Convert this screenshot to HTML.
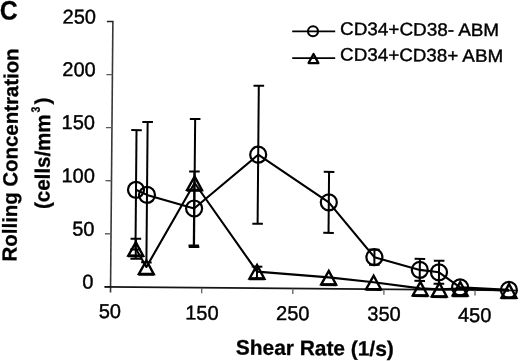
<!DOCTYPE html>
<html><head><meta charset="utf-8"><style>
html,body{margin:0;padding:0;background:#fff;}
body{width:520px;height:361px;overflow:hidden;position:relative;}
svg{position:absolute;left:0;top:0;filter:grayscale(1);}
text{font-family:"Liberation Sans",sans-serif;fill:#000;stroke:#000;stroke-width:0.4px;}
text[font-weight="bold"]{stroke-width:0.3px;}
</style></head><body>
<svg width="520" height="361" viewBox="0 0 520 361">
<rect width="520" height="361" fill="#fff"/>
<g transform="rotate(0.5 260 180)">
<g stroke="#151515" stroke-width="1.35" fill="none">
<line x1="111.5" y1="22.8" x2="111.5" y2="293.7" stroke="#383838" stroke-width="1.6"/>
<line x1="105.5" y1="235.12" x2="111.5" y2="235.12" stroke="#5a5a5a" stroke-width="1.3"/>
<line x1="105.5" y1="182.04" x2="111.5" y2="182.04" stroke="#5a5a5a" stroke-width="1.3"/>
<line x1="105.5" y1="128.96" x2="111.5" y2="128.96" stroke="#5a5a5a" stroke-width="1.3"/>
<line x1="105.5" y1="75.88" x2="111.5" y2="75.88" stroke="#5a5a5a" stroke-width="1.3"/>
<line x1="105.5" y1="22.8" x2="112.1" y2="22.8" stroke="#222" stroke-width="1.4"/>
<line x1="105.5" y1="288.2" x2="111.5" y2="288.2"/>
<line x1="105.5" y1="288.2" x2="517" y2="288.2" stroke-width="1.6"/>
</g>
<g stroke="#555" stroke-width="1.2" fill="none">
<line x1="202.7" y1="288.2" x2="202.7" y2="293.7"/>
<line x1="293.8" y1="288.2" x2="293.8" y2="293.7"/>
<line x1="384.9" y1="288.2" x2="384.9" y2="293.7"/>
<line x1="476" y1="288.2" x2="476" y2="293.7"/>
</g>
<polyline points="136.09,190.88 147.13,195.89 194.35,209.07 257.98,154.72 328.99,201.8 375.07,256.2 420.58,268.5 439.8,270.73 461.03,285.65 509.85,287.72" fill="none" stroke="#000" stroke-width="2.1" stroke-linejoin="round"/>
<polyline points="136.4,249.78 147.16,267.99 194.63,183.57 257.8,271.62 329.55,276.8 374.49,281.2 421.24,287 440.25,287.83 461.14,286.75 509.96,288.42" fill="none" stroke="#000" stroke-width="2.1" stroke-linejoin="round"/>
<g stroke="#000" stroke-width="2" fill="none">
<line x1="136.09" y1="131.18" x2="136.09" y2="250.58"/>
<line x1="130.79" y1="131.18" x2="141.39" y2="131.18"/>
<line x1="130.79" y1="250.58" x2="141.39" y2="250.58"/>
<line x1="147.13" y1="122.99" x2="147.13" y2="263.39"/>
<line x1="141.83" y1="122.99" x2="152.43" y2="122.99"/>
<line x1="141.83" y1="263.39" x2="152.43" y2="263.39"/>
<line x1="194.35" y1="172.07" x2="194.35" y2="246.07"/>
<line x1="189.05" y1="172.07" x2="199.65" y2="172.07"/>
<line x1="189.05" y1="246.07" x2="199.65" y2="246.07"/>
<line x1="257.98" y1="85.72" x2="257.98" y2="223.72"/>
<line x1="252.68" y1="85.72" x2="263.28" y2="85.72"/>
<line x1="252.68" y1="223.72" x2="263.28" y2="223.72"/>
<line x1="328.99" y1="171.3" x2="328.99" y2="232.3"/>
<line x1="323.69" y1="171.3" x2="334.29" y2="171.3"/>
<line x1="323.69" y1="232.3" x2="334.29" y2="232.3"/>
<line x1="375.07" y1="248.6" x2="375.07" y2="263.8"/>
<line x1="369.77" y1="248.6" x2="380.37" y2="248.6"/>
<line x1="369.77" y1="263.8" x2="380.37" y2="263.8"/>
<line x1="420.58" y1="257.5" x2="420.58" y2="279.5"/>
<line x1="415.28" y1="257.5" x2="425.88" y2="257.5"/>
<line x1="415.28" y1="279.5" x2="425.88" y2="279.5"/>
<line x1="439.8" y1="259.23" x2="439.8" y2="282.23"/>
<line x1="434.5" y1="259.23" x2="445.1" y2="259.23"/>
<line x1="434.5" y1="282.23" x2="445.1" y2="282.23"/>
<line x1="136.4" y1="239.78" x2="136.4" y2="259.78"/>
<line x1="131.1" y1="239.78" x2="141.7" y2="239.78"/>
<line x1="131.1" y1="259.78" x2="141.7" y2="259.78"/>
<line x1="194.63" y1="119.57" x2="194.63" y2="247.57"/>
<line x1="189.33" y1="119.57" x2="199.93" y2="119.57"/>
<line x1="189.33" y1="247.57" x2="199.93" y2="247.57"/>
<line x1="257.8" y1="266.62" x2="257.8" y2="278.42"/>
<line x1="252.5" y1="266.62" x2="263.1" y2="266.62"/>
<line x1="252.5" y1="278.42" x2="263.1" y2="278.42"/>
</g>
<g stroke="#000" stroke-width="2.2" fill="none">
<circle cx="136.09" cy="190.88" r="8.0"/>
<circle cx="147.13" cy="195.89" r="8.0"/>
<circle cx="194.35" cy="209.07" r="8.0"/>
<circle cx="257.98" cy="154.72" r="8.0"/>
<circle cx="328.99" cy="201.8" r="8.0"/>
<circle cx="375.07" cy="256.2" r="8.0"/>
<circle cx="420.58" cy="268.5" r="8.0"/>
<circle cx="439.8" cy="270.73" r="8.0"/>
<circle cx="461.03" cy="285.65" r="8.0"/>
<circle cx="509.85" cy="287.72" r="8.0"/>
<path d="M136.4,243.28 L143.8,256.78 L129,256.78 Z" stroke-linejoin="miter" stroke-width="2.4"/>
<line x1="128.5" y1="257.18" x2="144.3" y2="257.18" stroke-width="2.6"/>
<path d="M147.16,261.49 L154.56,274.99 L139.76,274.99 Z" stroke-linejoin="miter" stroke-width="2.4"/>
<line x1="139.26" y1="275.39" x2="155.06" y2="275.39" stroke-width="2.6"/>
<path d="M194.63,177.07 L202.03,190.57 L187.23,190.57 Z" stroke-linejoin="miter" stroke-width="2.4"/>
<line x1="186.73" y1="190.97" x2="202.53" y2="190.97" stroke-width="2.6"/>
<path d="M257.8,265.12 L265.2,278.62 L250.4,278.62 Z" stroke-linejoin="miter" stroke-width="2.4"/>
<line x1="249.9" y1="279.02" x2="265.7" y2="279.02" stroke-width="2.6"/>
<path d="M329.55,270.3 L336.95,283.8 L322.15,283.8 Z" stroke-linejoin="miter" stroke-width="2.4"/>
<line x1="321.65" y1="284.2" x2="337.45" y2="284.2" stroke-width="2.6"/>
<path d="M374.49,274.7 L381.89,288.2 L367.09,288.2 Z" stroke-linejoin="miter" stroke-width="2.4"/>
<line x1="366.59" y1="288.6" x2="382.39" y2="288.6" stroke-width="2.6"/>
<path d="M421.24,280.5 L428.64,294 L413.84,294 Z" stroke-linejoin="miter" stroke-width="2.4"/>
<line x1="413.34" y1="294.4" x2="429.14" y2="294.4" stroke-width="2.6"/>
<path d="M440.25,281.33 L447.65,294.83 L432.85,294.83 Z" stroke-linejoin="miter" stroke-width="2.4"/>
<line x1="432.35" y1="295.23" x2="448.15" y2="295.23" stroke-width="2.6"/>
<path d="M461.14,280.25 L468.54,293.75 L453.74,293.75 Z" stroke-linejoin="miter" stroke-width="2.4"/>
<line x1="453.24" y1="294.15" x2="469.04" y2="294.15" stroke-width="2.6"/>
<path d="M509.96,281.92 L517.36,295.42 L502.56,295.42 Z" stroke-linejoin="miter" stroke-width="2.4"/>
<line x1="502.06" y1="295.82" x2="517.86" y2="295.82" stroke-width="2.6"/>
</g>
<g stroke="#000" stroke-width="1.8" fill="none">
<line x1="290.9" y1="31.12" x2="333.9" y2="30.75"/>
<line x1="291.14" y1="57.92" x2="334.13" y2="57.55"/>
<circle cx="311.7" cy="30.84" r="5.0" stroke-width="2.1"/>
<path d="M312.44,53.54 L317.34,62.64 L307.54,62.64 Z" stroke-width="2.3" stroke-linejoin="round"/>
</g>
<text x="94.64" y="25.14" font-size="20" font-weight="normal" text-anchor="end" >250</text>
<text x="94.75" y="77.85" font-size="20" font-weight="normal" text-anchor="end" >200</text>
<text x="94.56" y="130.7" font-size="20" font-weight="normal" text-anchor="end" >150</text>
<text x="94.83" y="184.05" font-size="20" font-weight="normal" text-anchor="end" >100</text>
<text x="94.89" y="237.2" font-size="20" font-weight="normal" text-anchor="end" >50</text>
<text x="94.45" y="289.96" font-size="20" font-weight="normal" text-anchor="end" >0</text>
<text x="111.01" y="319.31" font-size="20" font-weight="normal" text-anchor="middle" >50</text>
<text x="203.12" y="320.25" font-size="20" font-weight="normal" text-anchor="middle" >150</text>
<text x="294.02" y="319.81" font-size="20" font-weight="normal" text-anchor="middle" >250</text>
<text x="385.22" y="319.66" font-size="20" font-weight="normal" text-anchor="middle" >350</text>
<text x="475.83" y="320.12" font-size="20" font-weight="normal" text-anchor="middle" >450</text>
<text transform="translate(-1.59,21.88) scale(0.92,1)" font-size="26.8" font-weight="bold">C</text>
<text x="316.33" y="354.72" font-size="20.9" font-weight="bold" text-anchor="middle" >Shear Rate (1/s)</text>
<text x="338.83" y="34.11" font-size="18" font-weight="normal" text-anchor="start" textLength="159" lengthAdjust="spacingAndGlyphs">CD34+CD38- ABM</text>
<text x="339.06" y="59.91" font-size="18" font-weight="normal" text-anchor="start" textLength="163" lengthAdjust="spacingAndGlyphs">CD34+CD38+ ABM</text>
<text transform="translate(17.29,157.02) rotate(-90)" x="0" y="0" font-size="20.4" font-weight="bold" text-anchor="middle">Rolling Concentration</text>
<g transform="translate(49.66,210.84) rotate(-90)"><text x="0" y="0" font-size="20.9" font-weight="bold" textLength="94.5" lengthAdjust="spacingAndGlyphs">(cells/mm</text><text transform="translate(96.4,-10.6) scale(0.85,1)" font-size="12.2" font-weight="bold">3</text><text x="104.4" y="-0.7" font-size="20.9" font-weight="bold">)</text></g>
</g>
</svg>
</body></html>
